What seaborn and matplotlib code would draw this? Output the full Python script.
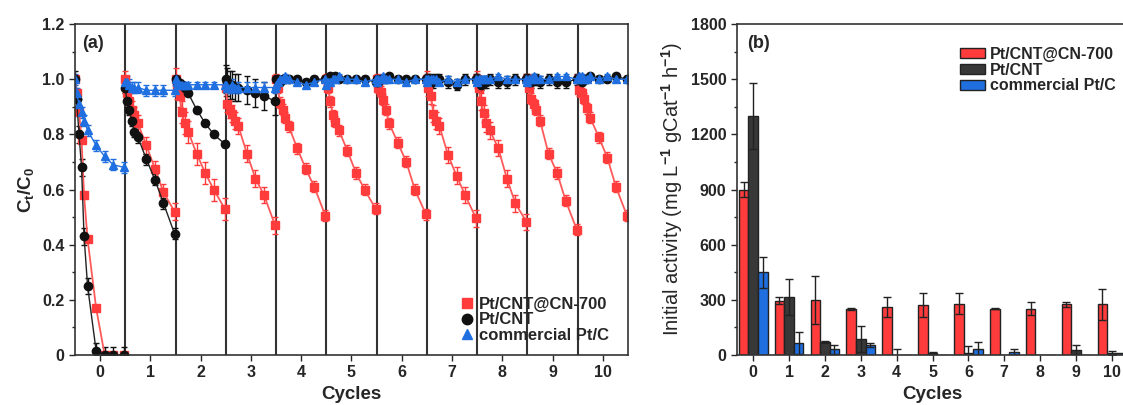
import matplotlib
matplotlib.use("Agg")
import matplotlib.pyplot as plt
from matplotlib.lines import Line2D
from matplotlib.patches import Patch
import numpy as np
import pandas as pd
import seaborn as sns

# ---- panel (a): Ct/C0 over repeated cycles ----
cycles = list(range(11))
# sampling positions inside one cycle (fraction of the cycle width)
cycle_t = [0.0, 0.03, 0.08, 0.13, 0.18, 0.25, 0.42, 0.59, 0.76, 0.98]

red_ct = [
    [1.0, 0.95, 0.88, 0.78, 0.58, 0.42, 0.17, 0.0, 0.0, 0.0],
    [1.0, 0.95, 0.92, 0.89, 0.87, 0.84, 0.76, 0.675, 0.59, 0.52],
    [1.0, 0.97, 0.94, 0.88, 0.84, 0.81, 0.73, 0.66, 0.60, 0.53],
    [0.97, 0.91, 0.89, 0.875, 0.85, 0.83, 0.73, 0.64, 0.58, 0.47],
    [1.0, 0.97, 0.915, 0.89, 0.86, 0.83, 0.75, 0.675, 0.61, 0.505],
    [1.0, 0.97, 0.92, 0.87, 0.845, 0.815, 0.74, 0.66, 0.60, 0.53],
    [1.0, 0.97, 0.955, 0.925, 0.89, 0.84, 0.77, 0.70, 0.60, 0.51],
    [1.0, 0.97, 0.94, 0.875, 0.85, 0.83, 0.725, 0.65, 0.58, 0.495],
    [1.0, 0.967, 0.92, 0.876, 0.84, 0.815, 0.75, 0.64, 0.55, 0.483],
    [1.0, 0.967, 0.93, 0.91, 0.89, 0.85, 0.73, 0.66, 0.56, 0.455],
    [1.0, 0.96, 0.95, 0.93, 0.895, 0.86, 0.79, 0.715, 0.61, 0.505],
]
black_ct = [
    [1.0, 0.93, 0.80, 0.68, 0.43, 0.25, 0.015, 0.0, 0.0, 0.0],
    [0.97, 0.92, 0.89, 0.85, 0.81, 0.79, 0.71, 0.635, 0.55, 0.44],
    [1.0, 0.99, 0.985, 0.98, 0.97, 0.95, 0.89, 0.84, 0.80, 0.765],
    [1.0, 0.99, 0.98, 0.98, 0.97, 0.97, 0.96, 0.95, 0.94, 0.92],
    [1.0, 1.0, 0.99, 1.0, 1.0, 1.0, 1.0, 0.99, 1.0, 1.0],
    [1.0, 1.0, 1.01, 1.0, 1.01, 1.0, 1.0, 1.0, 1.0, 0.99],
    [1.0, 0.99, 1.0, 1.0, 1.0, 1.01, 1.0, 1.0, 1.0, 1.0],
    [1.0, 1.0, 1.0, 0.99, 1.0, 1.0, 0.99, 0.98, 1.0, 1.0],
    [1.0, 0.99, 0.98, 0.99, 0.99, 1.0, 0.99, 0.99, 1.0, 1.0],
    [1.0, 0.99, 0.99, 1.0, 1.0, 0.99, 1.0, 0.99, 0.99, 1.0],
    [1.0, 1.0, 0.99, 1.0, 1.0, 1.01, 1.0, 1.0, 1.01, 1.0],
]
blue_ct = [
    [1.0, 0.95, 0.91, 0.88, 0.85, 0.815, 0.76, 0.72, 0.69, 0.68],
    [0.99, 0.99, 0.98, 0.97, 0.97, 0.97, 0.96, 0.96, 0.96, 0.96],
    [1.0, 0.99, 0.98, 0.98, 0.98, 0.98, 0.98, 0.98, 0.98, 0.98],
    [0.98, 0.97, 0.97, 0.98, 0.97, 0.97, 0.97, 0.97, 0.97, 0.97],
    [0.98, 0.99, 1.0, 1.0, 1.01, 1.0, 0.99, 0.98, 0.99, 1.0],
    [0.98, 0.99, 0.99, 1.0, 1.0, 1.01, 1.0, 1.0, 0.99, 1.0],
    [0.99, 1.0, 1.0, 1.01, 1.0, 1.0, 1.0, 0.99, 1.0, 1.0],
    [0.99, 1.0, 1.0, 1.0, 1.0, 0.99, 1.0, 0.99, 1.0, 1.0],
    [0.99, 1.0, 1.0, 1.0, 1.0, 1.0, 1.01, 1.0, 1.0, 1.0],
    [0.99, 1.0, 1.0, 1.01, 1.0, 1.0, 1.0, 1.01, 1.01, 1.0],
    [1.0, 1.01, 1.01, 1.0, 1.0, 1.01, 1.0, 1.01, 1.0, 1.0],
]
red_ct_err = [0.01, 0.03, 0.04, 0.03, 0.02, 0.02, 0.02, 0.03, 0.03, 0.02, 0.02]
black_ct_err = [0.03, 0.02, 0.01, 0.05, 0.01, 0.01, 0.01, 0.02, 0.02, 0.02, 0.01]
blue_ct_err = [0.02, 0.02, 0.01, 0.02, 0.01, 0.01, 0.01, 0.01, 0.01, 0.01, 0.01]

# ---- panel (b): initial activity per cycle ----
catalysts = ["Pt/CNT@CN-700", "Pt/CNT", "commercial Pt/C"]
red_act = [900, 295, 300, 250, 260, 270, 280, 252, 252, 275, 275]
black_act = [1300, 315, 72, 85, 0, 12, 10, 0, 0, 28, 10]
blue_act = [450, 65, 30, 55, 0, 0, 30, 15, 0, 0, 10]
red_act_err = [40, 20, 130, 3, 55, 65, 55, 3, 35, 15, 85]
black_act_err = [180, 100, 5, 70, 30, 5, 38, 0, 0, 25, 10]
blue_act_err = [85, 60, 25, 10, 0, 0, 40, 20, 0, 0, 0]

RED = "#ff3b3b"
BLACK = "#111111"
DARK = "#383838"
BLUE = "#1f6fe0"

sns.set_style("ticks")
plt.rcParams["font.family"] = ["Liberation Sans", "DejaVu Sans"]
plt.rcParams["font.weight"] = "bold"
plt.rcParams["mathtext.fontset"] = "custom"
plt.rcParams["mathtext.rm"] = "Liberation Sans"
plt.rcParams["mathtext.bf"] = "Liberation Sans:bold"

fig = plt.figure(figsize=(11.23, 4.05), dpi=100)
ax1 = fig.add_axes([0.0668, 0.1235, 0.4924, 0.817])
ax2 = fig.add_axes([0.6563, 0.1235, 0.3482, 0.817])

# panel (a)
series = [
    (red_ct, red_ct_err, RED, "#ff5a5a", "s", 5.5, 1.3),
    (black_ct, black_ct_err, BLACK, "#222222", "o", 6, 1.0),
    (blue_ct, blue_ct_err, BLUE, BLUE, "^", 5.5, 1.0),
]
for vals, errs, mcol, lcol, mk, ms, lw in series:
    for k in cycles:
        x = [k - 0.5 + t for t in cycle_t]
        ax1.errorbar(x, vals[k], yerr=errs[k], color=lcol, lw=lw,
                     marker=mk, ms=ms, mfc=mcol, mec=mcol,
                     ecolor=mcol, elinewidth=1, capsize=2)

for k in cycles[:-1]:
    ax1.axvline(k + 0.5, color="#333333", lw=1.5, zorder=0)

ax1.set_xlim(-0.5, 10.5)
ax1.set_ylim(0, 1.2)
ax1.set_xticks(cycles)
ax1.set_yticks(np.arange(0, 1.21, 0.2))
ax1.set_yticklabels(["0", "0.2", "0.4", "0.6", "0.8", "1.0", "1.2"])
ax1.set_yticks(np.arange(0.1, 1.2, 0.2), minor=True)
ax1.set_xlabel("Cycles", fontsize=13.5, fontweight="bold")
ax1.set_ylabel(r"C$_\mathbf{t}$/C$_\mathbf{0}$", fontsize=13.5, fontweight="bold", labelpad=4)
ax1.text(0.013, 0.94, "(a)", transform=ax1.transAxes, fontsize=13,
         fontweight="bold", va="center")
handles_a = [
    Line2D([], [], ls="none", marker="s", ms=7.5, color=RED),
    Line2D([], [], ls="none", marker="o", ms=7.5, color=BLACK),
    Line2D([], [], ls="none", marker="^", ms=6.5, color=BLUE),
]
ax1.legend(handles_a, catalysts, loc="lower right", bbox_to_anchor=(0.993, -0.01),
           frameon=False, handlelength=0.8, handletextpad=0.3,
           labelspacing=0.05, prop={"size": 12, "weight": "bold"})

# panel (b)
df = pd.DataFrame({
    "cycle": cycles * 3,
    "catalyst": np.repeat(catalysts, len(cycles)),
    "value": red_act + black_act + blue_act,
})
sns.barplot(data=df, x="cycle", y="value", hue="catalyst", hue_order=catalysts,
            palette=[RED, DARK, BLUE], edgecolor="#222222", linewidth=1,
            errorbar=None, width=0.8, legend=False, saturation=1, ax=ax2)
for cont, errs in zip(ax2.containers, [red_act_err, black_act_err, blue_act_err]):
    for bar, e in zip(cont, errs):
        if e > 0:
            ax2.errorbar(bar.get_x() + bar.get_width() / 2, bar.get_height(),
                         yerr=e, color="#222222", lw=1, capsize=3)

ax2.set_xlim(-0.45, 10.45)
ax2.set_ylim(0, 1800)
ax2.set_yticks(np.arange(0, 1801, 300))
ax2.set_yticks(np.arange(150, 1800, 300), minor=True)
ax2.set_xlabel("Cycles", fontsize=13.5, fontweight="bold")
ax2.set_ylabel(r"Initial activity (mg L$^{-1}$ gCat$^{-1}$ h$^{-1}$)",
               fontsize=14.5, fontweight="normal", labelpad=4)
ax2.text(0.025, 0.94, "(b)", transform=ax2.transAxes, fontsize=13,
         fontweight="bold", va="center")
handles_b = [Patch(facecolor=c, edgecolor="#222222", lw=1) for c in [RED, DARK, BLUE]]
ax2.legend(handles_b, catalysts, loc="upper right", bbox_to_anchor=(1.005, 0.975),
           frameon=False, handlelength=1.6, handleheight=0.55, handletextpad=0.3,
           labelspacing=0.05, prop={"size": 11.5, "weight": "bold"})

for ax in (ax1, ax2):
    for sp in ax.spines.values():
        sp.set_visible(True)
        sp.set_color("#333333")
        sp.set_linewidth(1.2)
    ax.tick_params(axis="both", which="major", direction="out", length=4,
                   width=1, labelsize=11.5, top=False, right=False)
    ax.tick_params(axis="y", which="minor", direction="out", length=2.5, width=1)
    for lab in ax.get_xticklabels() + ax.get_yticklabels():
        lab.set_fontweight("bold")

fig.savefig("out.png", dpi=100)
